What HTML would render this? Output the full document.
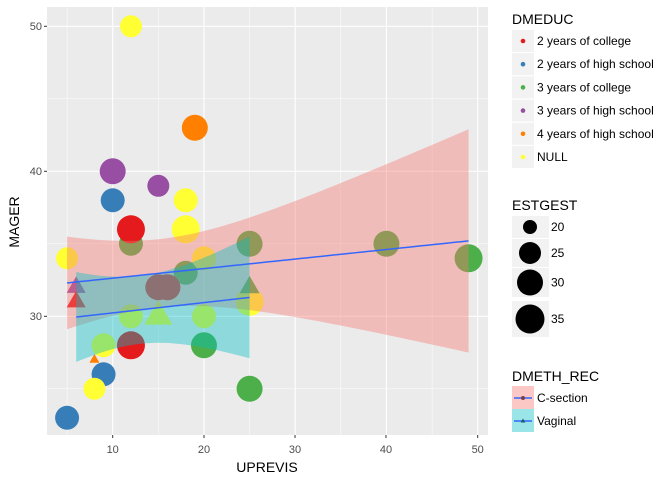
<!DOCTYPE html>
<html><head><meta charset="utf-8"><style>
body{margin:0;background:#fff}
svg text{font-family:"Liberation Sans",sans-serif}
</style></head><body>
<svg id="s" width="672" height="480" xmlns="http://www.w3.org/2000/svg">
<rect width="672" height="480" fill="#fff"/>
<rect x="47" y="7" width="441" height="428" fill="#EBEBEB"/>
<g id="grid"></g>
<g id="pts"></g>
<g id="rib"></g>
<g font-size="11" fill="#4D4D4D" text-anchor="end">
<text x="42" y="320">30</text><text x="42" y="175">40</text><text x="42" y="30">50</text>
</g>
<g font-size="11" fill="#4D4D4D" text-anchor="middle">
<text x="112.7" y="453">10</text><text x="204" y="453">20</text><text x="295" y="453">30</text><text x="386" y="453">40</text><text x="477.7" y="453">50</text>
</g>
<g stroke="#333" stroke-width="1">
<line x1="44" x2="47" y1="316.3" y2="316.3"/><line x1="44" x2="47" y1="171.3" y2="171.3"/><line x1="44" x2="47" y1="26.3" y2="26.3"/>
<line x1="112.7" x2="112.7" y1="435" y2="438"/><line x1="204" x2="204" y1="435" y2="438"/><line x1="295" x2="295" y1="435" y2="438"/><line x1="386" x2="386" y1="435" y2="438"/><line x1="477.7" x2="477.7" y1="435" y2="438"/>
</g>
<text x="267" y="472" font-size="14" text-anchor="middle">UPREVIS</text>
<text transform="translate(19,222) rotate(-90)" font-size="14" text-anchor="middle">MAGER</text>

<text x="512" y="24" font-size="14">DMEDUC</text>
<g id="leg1"></g>
<text x="512" y="210" font-size="14">ESTGEST</text>
<g id="leg2"></g>
<text x="512" y="381" font-size="14">DMETH_REC</text>
<rect x="512" y="386" width="22" height="23" fill="#F8766D" fill-opacity="0.4"/>
<rect x="512" y="409" width="22" height="23" fill="#00BFC4" fill-opacity="0.4"/>
<line x1="514" x2="532" y1="398" y2="398" stroke="#3366FF" stroke-width="1.5"/>
<line x1="514" x2="532" y1="421" y2="421" stroke="#3366FF" stroke-width="1.5"/>
<circle cx="523" cy="398" r="2" fill="#7a3f4a"/>
<polygon points="523,418.5 525.3,422.5 520.7,422.5" fill="#1f5a6a"/>
<text x="537" y="402" font-size="12">C-section</text>
<text x="537" y="425" font-size="12">Vaginal</text>
</svg>
<script>
const NS="http://www.w3.org/2000/svg";
const X=v=>112.7+(v-10)*9.125, Y=v=>316.3-(v-30)*14.5;
function el(p,t,a){const e=document.createElementNS(NS,t);for(const k in a)e.setAttribute(k,a[k]);document.getElementById(p).appendChild(e);return e;}
[5,15,25,35,45].forEach(v=>el('grid','line',{x1:X(v),x2:X(v),y1:7,y2:435,stroke:'#fff','stroke-width':0.5}));
[25,35,45].forEach(v=>el('grid','line',{x1:47,x2:488,y1:Y(v),y2:Y(v),stroke:'#fff','stroke-width':0.5}));
[10,20,30,40,50].forEach(v=>el('grid','line',{x1:X(v),x2:X(v),y1:7,y2:435,stroke:'#fff','stroke-width':1.1}));
[30,40,50].forEach(v=>el('grid','line',{x1:47,x2:488,y1:Y(v),y2:Y(v),stroke:'#fff','stroke-width':1.1}));
const C={r:'#E41A1C',b:'#377EB8',g:'#4DAF4A',p:'#984EA3',o:'#FF7F00',y:'#FFFF33',l:'#FFFF33'};
const P=[['y',12,50,11],['o',19,43,13],['p',10,40,13],['p',15,39,11],['b',10,38,12],['y',18,38,12],['y',18,36,14],
['g',12,35,12],['r',12,36,14],['y',5,34,11],['g',25,35,13],['g',40,35,13],['g',49,34,14],['g',18,33,12],['y',20,34,12],
['r',15,32,13],['r',16,32,13],['l',12,30,12],['l',20,30,12],['y',25,31,14],['y',9,28,11],['l',9,28,12],['r',12,28,14],['g',20,28,13],
['b',9,26,12],['y',8,25,11],['b',5,23,12],['g',25,25,13]];
P.forEach(([c,x,y,r])=>el('pts','circle',{cx:X(x),cy:Y(y),r:r,fill:C[c]}));
const T=[['p',6,32,19],['r',6,31,19],['l',15,30,28],['g',25,32,20],['o',8,27,10]];
T.forEach(([c,x,y,s])=>{const cx=X(x),cy=Y(y),h=s*0.87;el('pts','polygon',{points:`${cx},${cy-h*0.66} ${cx+s/2},${cy+h*0.34} ${cx-s/2},${cy+h*0.34}`,fill:C[c]});});
function rib(x0,x1,l0,l1,a,b,m,col){let up=[],dn=[],ln=[];for(let i=0;i<=60;i++){const x=x0+(x1-x0)*i/60,yl=l0+(l1-l0)*(x-x0)/(x1-x0),hw=Math.sqrt(a+b*(x-m)*(x-m));up.push(X(x)+','+Y(yl+hw));dn.unshift(X(x)+','+Y(yl-hw));ln.push(X(x)+','+Y(yl));}
el('rib','polygon',{points:up.concat(dn).join(' '),fill:col,'fill-opacity':0.4});return ln.join(' ');}
const l1=rib(5,49,32.3,35.2,5.55,0.0465,15,'#F8766D');
const l2=rib(6,25,29.95,31.3,5.5,0.084,13,'#00BFC4');
el('rib','polyline',{points:l1,fill:'none',stroke:'#3366FF','stroke-width':1.5});
el('rib','polyline',{points:l2,fill:'none',stroke:'#3366FF','stroke-width':1.5});
const L=[['r','2 years of college'],['b','2 years of high school'],['g','3 years of college'],['p','3 years of high school'],['o','4 years of high school'],['y','NULL']];
L.forEach(([c,t],i)=>{const y=30+i*23.2;el('leg1','rect',{x:512,y:y,width:22,height:22,fill:'#F2F2F2'});el('leg1','circle',{cx:523,cy:y+11,r:2.3,fill:C[c]});const e=el('leg1','text',{x:537,y:y+15,'font-size':12});e.textContent=t;});
const G=[[216,22,7,'20'],[239,28,11,'25'],[268,29,13,'30'],[301,36,14.5,'35']];
G.forEach(([y,h,r,t])=>{el('leg2','rect',{x:512,y:y,width:37,height:h,fill:'#F2F2F2'});el('leg2','circle',{cx:530,cy:y+h/2,r:r,fill:'#000'});const e=el('leg2','text',{x:551,y:y+h/2+4,'font-size':12});e.textContent=t;});
</script>
</body></html>
